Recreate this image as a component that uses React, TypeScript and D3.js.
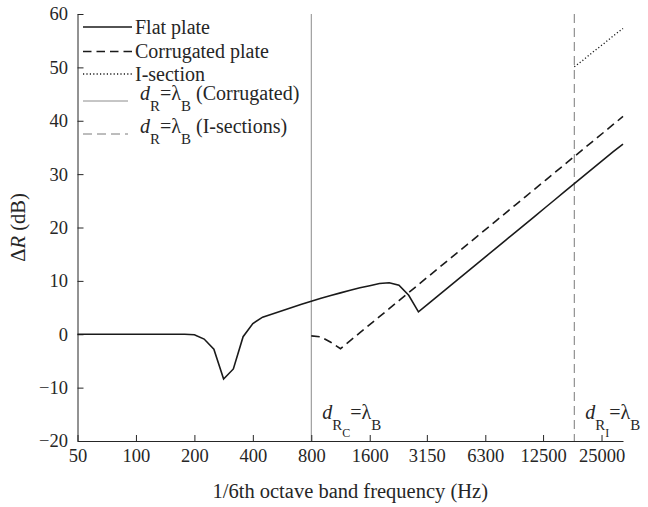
import React, { useEffect, useRef } from 'react';
import * as d3 from 'd3';

// 1/6th octave band centre frequencies (Hz)
const bandFreqs = [
  50, 56.1, 63, 70.7, 79.4, 89.1, 100, 112.2, 126, 141.4, 158.7, 178.2,
  200, 224.5, 252, 282.8, 317.5, 356.4, 400, 449, 504, 565.7, 635, 712.7,
  800, 898, 1008, 1131, 1270, 1425, 1600, 1796, 2016, 2263, 2540, 2851,
  3200, 3592, 4032, 4525, 5080, 5702, 6400, 7184, 8063, 9051, 10159, 11404,
  12800, 14368, 16127, 18102, 20319, 22807, 25600, 28735, 32254,
];

// Delta R (dB), one value per band
const flatPlate = [
  0, 0, 0, 0, 0, 0, 0, 0, 0, 0, 0, 0,
  -0.1, -0.9, -2.8, -8.4, -6.5, -0.45, 2.0, 3.2, 3.8, 4.4, 5.0, 5.6,
  6.2, 6.75, 7.25, 7.75, 8.25, 8.7, 9.1, 9.5, 9.65, 9.2, 7.3, 4.2,
  5.7, 7.2, 8.7, 10.2, 11.7, 13.2, 14.7, 16.2, 17.7, 19.2, 20.7, 22.2,
  23.7, 25.2, 26.7, 28.2, 29.7, 31.2, 32.7, 34.2, 35.6,
];

const corrugatedPlate = [
  null, null, null, null, null, null, null, null, null, null, null, null,
  null, null, null, null, null, null, null, null, null, null, null, null,
  -0.3, -0.5, -1.5, -2.7, -1.2, 0.3, 1.8, 3.3, 4.8, 6.3, 7.8, 9.3,
  10.8, 12.3, 13.8, 15.3, 16.8, 18.3, 19.8, 21.3, 22.8, 24.3, 25.8, 27.3,
  28.8, 30.3, 31.8, 33.3, 34.8, 36.3, 37.8, 39.3, 40.8,
];

const iSection = [
  null, null, null, null, null, null, null, null, null, null, null, null,
  null, null, null, null, null, null, null, null, null, null, null, null,
  null, null, null, null, null, null, null, null, null, null, null, null,
  null, null, null, null, null, null, null, null, null, null, null, null,
  null, null, null, 50.1, 51.5, 53.0, 54.4, 55.9, 57.3,
];

// frequencies where d_R = lambda_B
const corrugatedLimit = 800;
const iSectionLimit = 18102;

const xTicks = [50, 100, 200, 400, 800, 1600, 3150, 6300, 12500, 25000];
const yTicks = [-20, -10, 0, 10, 20, 30, 40, 50, 60];
const legendLabels = ['Flat plate', 'Corrugated plate', 'I-section'];
const legendLimitLabels = ['(Corrugated)', '(I-sections)'];

const fontFamily = "'Liberation Serif', 'Times New Roman', Tinos, 'DejaVu Serif', serif";
const textColor = '#262626';

const App = () => {
  const svgRef = useRef<SVGSVGElement>(null);
  const width = 648;
  const height = 507;
  const margin = { top: 14, right: 25, bottom: 66, left: 77.5 };

  useEffect(() => {
    const svg = d3.select(svgRef.current);
    svg.selectAll('*').remove();

    const x = d3.scaleLog()
      .domain([bandFreqs[0], bandFreqs[bandFreqs.length - 1]])
      .range([margin.left, width - margin.right]);
    const y = d3.scaleLinear()
      .domain([-20, 60])
      .range([height - margin.bottom, margin.top]);

    svg.append('rect').attr('width', width).attr('height', height).attr('fill', '#fff');

    // limit lines
    svg.append('line')
      .attr('x1', x(corrugatedLimit)).attr('x2', x(corrugatedLimit))
      .attr('y1', y(60)).attr('y2', y(-20))
      .attr('stroke', '#8c8c8c').attr('stroke-width', 1);
    svg.append('line')
      .attr('x1', x(iSectionLimit)).attr('x2', x(iSectionLimit))
      .attr('y1', y(60)).attr('y2', y(-20))
      .attr('stroke', '#7a7a7a').attr('stroke-width', 1)
      .attr('stroke-dasharray', '9,5');

    // axes
    const xAxis = d3.axisBottom(x)
      .tickValues(xTicks)
      .tickFormat(d => String(d))
      .tickSize(-6)
      .tickSizeOuter(0)
      .tickPadding(8);
    const gx = svg.append('g')
      .attr('transform', `translate(0,${y(-20)})`)
      .call(xAxis)
      .attr('color', textColor);
    gx.attr('font-family', null).attr('font-size', null);
    gx.selectAll('text').style('font-size', '18.5px');

    const yAxis = d3.axisLeft(y)
      .tickValues(yTicks)
      .tickSize(-6)
      .tickSizeOuter(0)
      .tickPadding(9.5);
    const gy = svg.append('g')
      .attr('transform', `translate(${margin.left},0)`)
      .call(yAxis)
      .attr('color', textColor);
    gy.attr('font-family', null).attr('font-size', null);
    gy.selectAll('text').style('font-size', '18.5px');

    // axis titles
    svg.append('text')
      .attr('x', (margin.left + width - margin.right) / 2)
      .attr('y', 498)
      .attr('text-anchor', 'middle')
      .style('font-size', '20.5px')
      .attr('fill', textColor)
      .text('1/6th octave band frequency (Hz)');

    const yTitle = svg.append('text')
      .attr('transform', `translate(25,${(y(60) + y(-20)) / 2}) rotate(-90)`)
      .attr('text-anchor', 'middle')
      .style('font-size', '20.5px')
      .attr('fill', textColor);
    yTitle.append('tspan').text('\u0394');
    yTitle.append('tspan').attr('font-style', 'italic').text('R');
    yTitle.append('tspan').text(' (dB)');

    // curves
    const line = d3.line<number | null>()
      .defined(d => d != null)
      .x((d, i) => x(bandFreqs[i]))
      .y(d => y(d as number));

    svg.append('path').datum(flatPlate)
      .attr('d', line).attr('fill', 'none')
      .attr('stroke', '#1a1a1a').attr('stroke-width', 1.6);
    svg.append('path').datum(corrugatedPlate)
      .attr('d', line).attr('fill', 'none')
      .attr('stroke', '#1a1a1a').attr('stroke-width', 1.6)
      .attr('stroke-dasharray', '8.5,5');
    svg.append('path').datum(iSection)
      .attr('d', line).attr('fill', 'none')
      .attr('stroke', '#1a1a1a').attr('stroke-width', 1.3)
      .attr('stroke-dasharray', '1.2,2.2');

    // annotations d_R = lambda_B
    const annotate = (fx: number, sub: string) => {
      const t = svg.append('text')
        .attr('x', x(fx) + 11).attr('y', 419)
        .style('font-size', '20px')
        .attr('fill', textColor);
      t.append('tspan').attr('font-style', 'italic').text('d');
      t.append('tspan').attr('dy', 11).style('font-size', '15px').text('R');
      t.append('tspan').attr('dy', 7).style('font-size', '12px').text(sub);
      t.append('tspan').attr('dy', -18).text('=\u03bb');
      t.append('tspan').attr('dy', 11).style('font-size', '15px').text('B');
    };
    annotate(corrugatedLimit, 'C');
    annotate(iSectionLimit, 'I');

    // legend
    const legend = svg.append('g')
      .style('font-size', '20px')
      .attr('fill', textColor);
    const rowY = [27, 51.5, 74, 101, 134];
    const styles = [
      { dash: null, color: '#1a1a1a', w: 1.6, x2: 132 },
      { dash: '8.5,5', color: '#1a1a1a', w: 1.6, x2: 132 },
      { dash: '1.2,2.2', color: '#1a1a1a', w: 1.3, x2: 132 },
      { dash: null, color: '#8c8c8c', w: 1, x2: 128 },
      { dash: '9,5', color: '#7a7a7a', w: 1, x2: 128 },
    ];
    styles.forEach((s, i) => {
      legend.append('line')
        .attr('x1', 83).attr('x2', s.x2)
        .attr('y1', rowY[i]).attr('y2', rowY[i])
        .attr('stroke', s.color).attr('stroke-width', s.w)
        .attr('stroke-dasharray', s.dash);
    });
    legendLabels.forEach((label, i) => {
      legend.append('text')
        .attr('x', 135).attr('y', rowY[i] + 6.5)
        .text(label);
    });
    legendLimitLabels.forEach((label, i) => {
      const t = legend.append('text')
        .attr('x', 140).attr('y', rowY[i + 3] - 1);
      t.append('tspan').attr('font-style', 'italic').text('d');
      t.append('tspan').attr('dy', 11).style('font-size', '15px').text('R');
      t.append('tspan').attr('dy', -11).text('=\u03bb');
      t.append('tspan').attr('dy', 11).style('font-size', '15px').text('B');
      t.append('tspan').attr('dy', -11).text(' ' + label);
    });
  }, []);

  return (
    <svg
      ref={svgRef}
      width={width}
      height={height}
      style={{ position: 'absolute', left: 0, top: 0, fontFamily }}
    />
  );
};

export default App;
